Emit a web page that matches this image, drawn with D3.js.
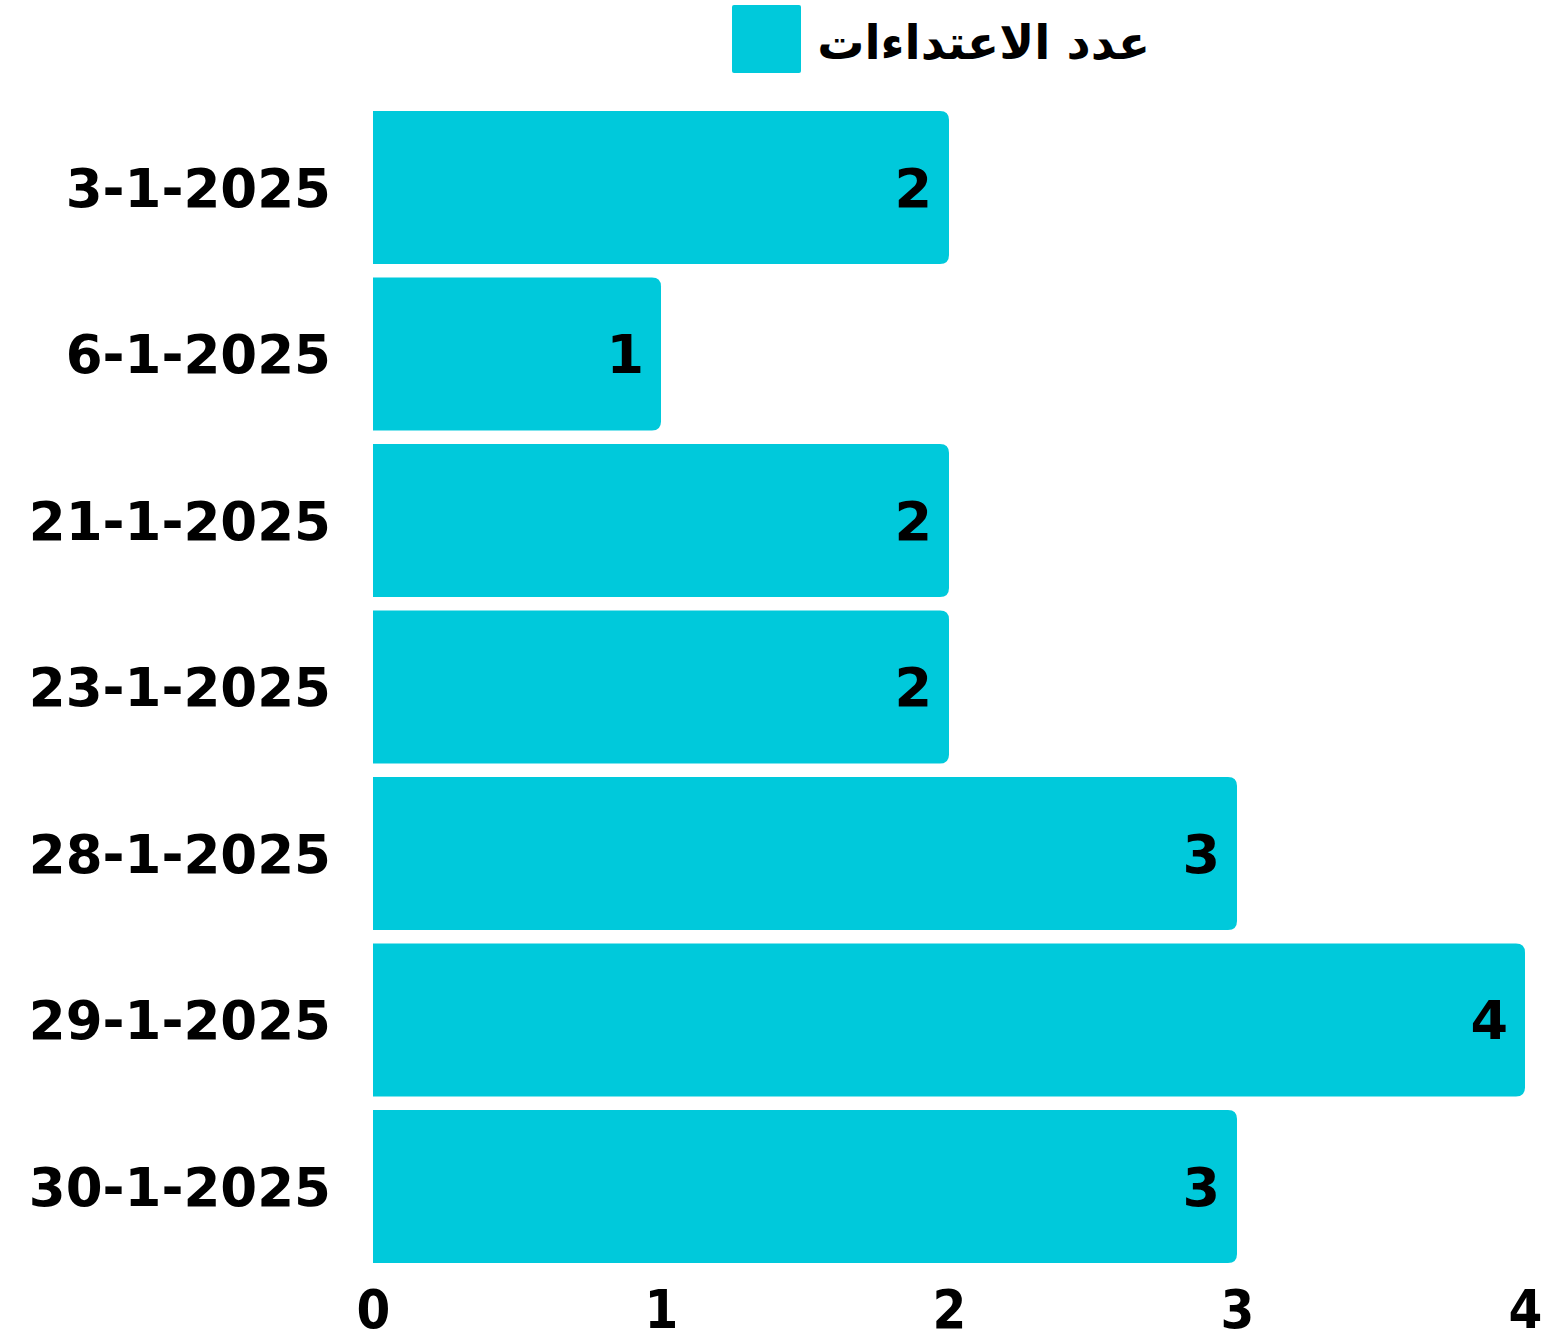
<!DOCTYPE html>
<html><head><meta charset="utf-8">
<script src="https://cdn.jsdelivr.net/npm/d3@7"></script>
<style>html,body{margin:0;padding:0;background:#fff;}</style>
</head><body>
<svg id="chart" width="1559" height="1340"></svg>
<script>
const categories = ["3-1-2025","6-1-2025","21-1-2025","23-1-2025","28-1-2025","29-1-2025","30-1-2025"];
const values = [2,1,2,2,3,4,3];
const tickValues = [0,1,2,3,4];
const seriesName = "عدد الاعتداءات";
const barColor = "#00C9DB";

const svg = d3.select("#chart");
const x = d3.scaleLinear().domain([0,4]).range([373,1525]);
const y = d3.scaleBand().domain(categories).range([104.3,1269.8]).paddingInner(0.081).paddingOuter(0.0405);
const r = 9;

svg.selectAll("path.bar").data(categories).join("path")
  .attr("class","bar").attr("fill",barColor)
  .attr("d",(c,i)=>{
    const x0=x(0), x1=x(values[i]), y0=y(c), h=y.bandwidth();
    return `M${x0},${y0}H${x1-r}Q${x1},${y0} ${x1},${y0+r}V${y0+h-r}Q${x1},${y0+h} ${x1-r},${y0+h}H${x0}Z`;
  });

svg.selectAll("text.val").data(categories).join("text")
  .attr("class","val")
  .attr("x",(c,i)=>x(values[i])-17)
  .attr("y",c=>y(c)+y.bandwidth()/2)
  .attr("dy","0.36em")
  .attr("text-anchor","end")
  .style("font-family","'DejaVu Sans'").style("font-weight","bold").style("font-size","54px")
  .text((c,i)=>values[i]);

const yAxis = svg.append("g").attr("transform",`translate(${x(0)},0)`)
  .call(d3.axisLeft(y).tickSize(0).tickPadding(42));
yAxis.select(".domain").remove();
yAxis.selectAll("text").style("font-family","'DejaVu Sans'").style("font-weight","bold")
  .style("font-size","53px").attr("fill","#000").attr("dy","0.36em");

const xAxis = svg.append("g").attr("transform",`translate(0,1290)`)
  .call(d3.axisBottom(x).tickValues(tickValues).tickSize(0).tickPadding(0).tickFormat(d3.format("d")));
xAxis.select(".domain").remove();
xAxis.selectAll("text").style("font-family","'DejaVu Sans Condensed'").style("font-weight","bold")
  .style("font-size","54px").attr("fill","#000").attr("dy","0.71em");

const lg = svg.append("g");
lg.append("rect").attr("x",732).attr("y",5).attr("width",69).attr("height",68).attr("rx",2).attr("fill",barColor);
lg.append("text").attr("x",1150).attr("y",42).attr("dy","0.36em").attr("text-anchor","end")
  .style("font-family","'DejaVu Sans'").style("font-weight","bold").style("font-size","47px")
  .text(seriesName);
</script>
</body></html>
